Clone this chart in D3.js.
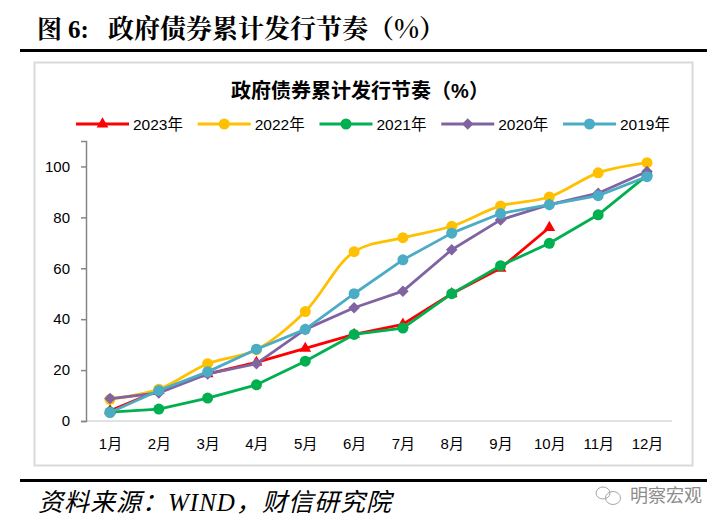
<!DOCTYPE html>
<html>
<head>
<meta charset="utf-8">
<script src="https://cdn.jsdelivr.net/npm/d3@7"></script>
<style>
html, body { margin: 0; padding: 0; background: #fff; }
svg { display: block; }
text { font-family: "Liberation Sans", "Noto Sans CJK SC", sans-serif; fill: #000; }
</style>
</head>
<body>
<svg id="chart" width="723" height="528"></svg>
<script>
const months = ["1月", "2月", "3月", "4月", "5月", "6月", "7月", "8月", "9月", "10月", "11月", "12月"];
const yTicks = [0, 20, 40, 60, 80, 100];

const values2023 = [4, 12, 18.5, 23, 28.5, 34, 38, 50, 60, 76];
const values2022 = [8.5, 12.5, 22.5, 28, 43, 66.5, 72, 76.5, 84.5, 88, 97.5, 101.5];
const values2021 = [3.5, 4.7, 9, 14.2, 23.5, 34, 36.5, 50, 61, 69.8, 81, 96.5];
const values2020 = [8.8, 11, 18.5, 22.5, 36, 44.5, 51, 67.3, 79, 85, 89.5, 98];
const values2019 = [3.3, 12, 19.3, 28.2, 36, 50, 63.3, 73.8, 81.5, 85, 88.5, 96];

const seriesNames = ["2023年", "2022年", "2021年", "2020年", "2019年"];
const seriesValues = [values2023, values2022, values2021, values2020, values2019];
const seriesColors = ["#ff0000", "#ffc000", "#00b050", "#8064a2", "#4bacc6"];
const seriesSymbols = [d3.symbolTriangle, d3.symbolCircle, d3.symbolCircle, d3.symbolDiamond2, d3.symbolCircle];
const symbolSizes = [60, 95, 95, 85, 95];
const seriesCurves = [d3.curveLinear, d3.curveCatmullRom, d3.curveLinear, d3.curveLinear, d3.curveLinear];

const svg = d3.select("#chart");
const headFont = '"Noto Serif CJK SC", "Noto Sans CJK SC", sans-serif';

// page heading and rules
svg.append("text").attr("x", 37).attr("y", 38)
    .style("font-family", headFont).style("font-size", "25px").style("font-weight", 700)
    .text("图");
svg.append("text").attr("x", 68).attr("y", 38)
    .style("font-family", '"Liberation Serif", serif').style("font-size", "25px").style("font-weight", 700)
    .text("6:");
svg.append("text").attr("x", 108).attr("y", 38)
    .style("font-family", headFont).style("font-size", "26px").style("font-weight", 700)
    .text("政府债券累计发行节奏（%）");
svg.append("rect").attr("x", 20).attr("y", 49).attr("width", 687).attr("height", 3).attr("fill", "#000");
svg.append("rect").attr("x", 20).attr("y", 479).attr("width", 687).attr("height", 3).attr("fill", "#000");

// chart frame
svg.append("rect").attr("x", 34.5).attr("y", 62.5).attr("width", 658).attr("height", 403)
    .attr("fill", "#fff").attr("stroke", "#d9d9d9").attr("stroke-width", 2);

svg.append("text").attr("x", 360).attr("y", 98).attr("text-anchor", "middle")
    .style("font-size", "20px").style("font-weight", 700)
    .text("政府债券累计发行节奏（%）");

// scales
const x = d3.scalePoint().domain(months).range([110, 647]);
const y = d3.scaleLinear().domain([0, 110]).range([421, 141]);

// axes
const xAxis = svg.append("g").attr("transform", "translate(0,421)")
    .call(d3.axisBottom(x).tickSize(0).tickPadding(17));
xAxis.select(".domain").attr("d", "M86,0H672").attr("stroke", "#d9d9d9").attr("stroke-width", 1.5);
xAxis.selectAll("text").style("font-size", "15px");

const yAxis = svg.append("g").attr("transform", "translate(86,0)")
    .call(d3.axisLeft(y).tickValues(yTicks).tickSize(5).tickPadding(11));
yAxis.select(".domain").attr("stroke", "#868686").attr("stroke-width", 1.5);
yAxis.selectAll("line").attr("stroke", "#868686").attr("stroke-width", 1.5);
yAxis.selectAll("text").style("font-size", "15px");

// series, oldest on top as in the original
seriesValues.forEach((vals, i) => {
    const line = d3.line()
        .x((d, k) => x(months[k]))
        .y(d => y(d))
        .curve(seriesCurves[i]);
    const g = svg.append("g");
    g.append("path").attr("d", line(vals))
        .attr("fill", "none")
        .attr("stroke", seriesColors[i])
        .attr("stroke-width", 2.8)
        .attr("stroke-linejoin", "round");
    g.selectAll("path.mark").data(vals).join("path")
        .attr("class", "mark")
        .attr("d", d3.symbol().type(seriesSymbols[i]).size(symbolSizes[i]))
        .attr("fill", seriesColors[i])
        .attr("transform", (d, k) => `translate(${x(months[k])},${y(d)})`);
});

// legend
const legendX = d3.scalePoint().domain(seriesNames).range([76, 563]);
seriesNames.forEach((name, i) => {
    const g = svg.append("g").attr("transform", `translate(${legendX(name)},124)`);
    g.append("line").attr("x1", 0).attr("x2", 53)
        .attr("stroke", seriesColors[i]).attr("stroke-width", 2.8);
    g.append("path")
        .attr("d", d3.symbol().type(seriesSymbols[i]).size(symbolSizes[i]))
        .attr("fill", seriesColors[i])
        .attr("transform", "translate(26.5,0)");
    g.append("text").attr("x", 57).attr("y", 5.5).style("font-size", "15.5px").text(name);
});

// source line
svg.append("text").attr("x", 38).attr("y", 511)
    .style("font-family", '"Liberation Serif", "Noto Sans CJK SC", serif')
    .style("font-size", "25px").style("font-style", "italic").style("letter-spacing", "1px")
    .text("资料来源：WIND，财信研究院");

// watermark
const mark = svg.append("g").attr("fill", "none").attr("stroke", "#a6a6a6").attr("stroke-width", 1);
mark.append("ellipse").attr("cx", 603).attr("cy", 493).attr("rx", 7).attr("ry", 6);
mark.append("ellipse").attr("cx", 613).attr("cy", 498).attr("rx", 7.5).attr("ry", 6.5);
svg.append("text").attr("x", 630).attr("y", 502)
    .style("font-size", "18px").style("fill", "#8c8c8c")
    .text("明察宏观");
</script>
</body>
</html>
